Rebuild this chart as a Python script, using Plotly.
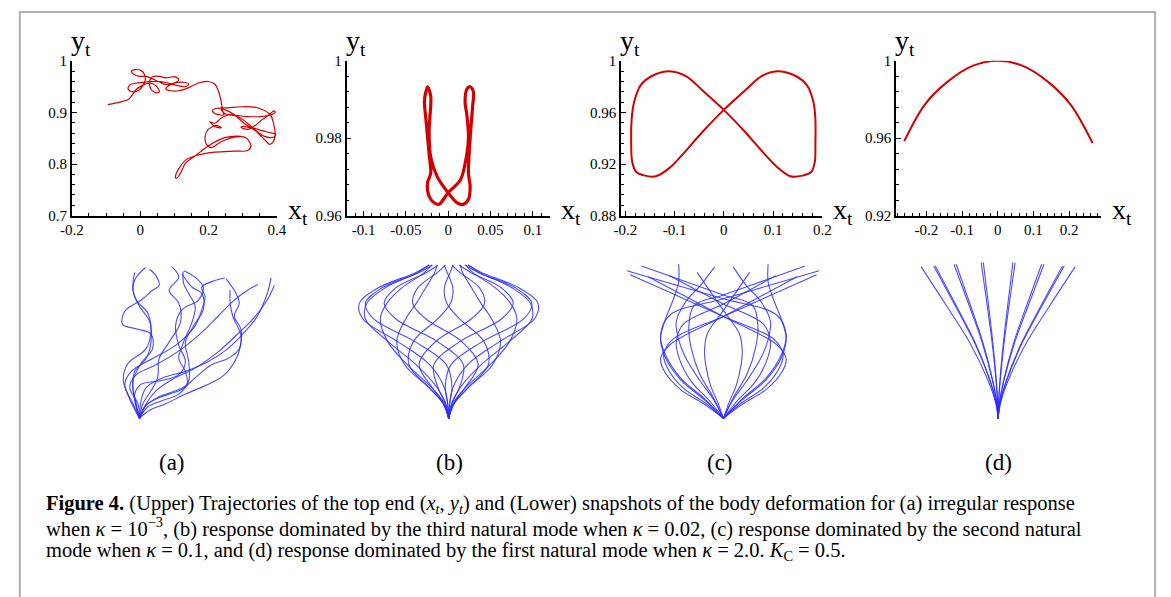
import plotly.graph_objects as go

# ---------------- data ----------------
# (a) irregular trajectory of top end
traj_a_x = [-0.095,-0.059,-0.035,-0.023,-0.011,0.008,0.027,0.046,0.056,0.046,
            0.032,0.027,0.036,0.056,0.075,0.103,0.113,0.099,0.075,0.056,
            0.036,0.017,-0.002,-0.019,-0.026,-0.016,0.003,0.012,0.015,0.008,
            -0.007,-0.021,-0.035,-0.031,-0.011,0.017,0.046,0.075,0.103,0.132,
            0.142,0.132,0.108,0.084,0.075,0.089,0.113,0.142,0.170,0.199,
            0.218,0.230,0.237,0.242,0.245,0.237,0.218,0.211,0.223,0.257,
            0.295,0.343,0.381,0.391,0.395,0.389,0.379,0.367,0.338,0.304,
            0.276,0.252,0.237,0.247,0.276,0.314,0.352,0.381,0.395,0.391,
            0.376,0.357,0.333,0.314,0.295,0.300,0.333,0.371,0.395,0.395,
            0.381,0.362,0.338,0.314,0.285,0.257,0.237,0.218,0.204,0.218,
            0.237,0.223,0.199,0.190,0.194,0.209,0.237,0.276,0.309,0.324,
            0.314,0.276,0.218,0.161,0.132,0.113,0.103,0.106,0.118,0.132,
            0.161,0.199,0.247,0.285,0.304]
traj_a_y = [0.915,0.920,0.925,0.934,0.945,0.953,0.957,0.952,0.940,0.938,
            0.945,0.958,0.969,0.970,0.967,0.969,0.963,0.957,0.954,0.959,
            0.965,0.970,0.970,0.974,0.980,0.983,0.981,0.974,0.964,0.952,
            0.942,0.940,0.945,0.953,0.957,0.959,0.960,0.958,0.953,0.950,
            0.955,0.958,0.958,0.952,0.945,0.942,0.942,0.948,0.957,0.960,
            0.955,0.939,0.920,0.901,0.895,0.895,0.898,0.903,0.908,0.909,
            0.911,0.909,0.895,0.876,0.857,0.843,0.838,0.845,0.864,0.879,
            0.895,0.904,0.906,0.898,0.895,0.892,0.892,0.895,0.901,0.903,
            0.895,0.886,0.873,0.867,0.871,0.873,0.869,0.862,0.858,0.854,
            0.851,0.854,0.865,0.879,0.892,0.895,0.889,0.879,0.882,0.873,
            0.870,0.875,0.867,0.854,0.838,0.832,0.843,0.852,0.851,0.835,
            0.826,0.825,0.823,0.816,0.807,0.791,0.775,0.772,0.782,0.801,
            0.816,0.835,0.851,0.854,0.852]

# (b) third-mode trajectory
traj_b_x = [-0.0245,-0.028,-0.026,-0.0225,-0.0206,-0.0245,-0.0225,-0.0167,-0.0109,0.0,
            0.0144,0.020,0.024,0.0221,0.020,0.0221,0.026,0.0299,0.029,0.026,
            0.024,0.026,0.024,0.018,0.0105,0.0,-0.0128,-0.0206,-0.0225,-0.0206,
            -0.0206,-0.0245,-0.028]
traj_b_y = [0.9933,0.990,0.9843,0.9759,0.9709,0.9684,0.965,0.9633,0.9629,0.9659,
            0.9692,0.9734,0.9801,0.986,0.9893,0.9927,0.9933,0.9919,0.9885,0.980,
            0.9709,0.9675,0.9642,0.9629,0.9633,0.9659,0.970,0.9751,0.9818,0.9885,
            0.991,0.9933,0.990]

# (c) second-mode figure-eight trajectory
traj_c_x = [0,0.043,0.076,0.108,0.142,0.169,0.182,0.186,0.186,0.185,0.178,0.160,0.135,
            0.110,0.082,0.043,0,-0.043,-0.076,-0.110,-0.142,-0.169,-0.182,-0.187,-0.188,
            -0.186,-0.178,-0.160,-0.138,-0.110,-0.082,-0.043,0,0.043]
traj_c_y = [0.962,0.977,0.988,0.992,0.989,0.981,0.968,0.955,0.935,0.922,0.914,0.911,0.9105,
            0.917,0.928,0.945,0.962,0.977,0.988,0.992,0.989,0.981,0.968,0.955,0.935,
            0.922,0.914,0.911,0.9105,0.917,0.928,0.945,0.962,0.977]

# (d) first-mode arc trajectory
traj_d_x = [-0.262,-0.206,-0.142,-0.069,0.0,0.069,0.142,0.206,0.266]
traj_d_y = [0.9585,0.977,0.989,0.9975,1.0,0.9975,0.989,0.977,0.9575]

# Lower snapshots: lateral deflection (x) and height (y) of body, root at (0,0)
snap_a_x = [
    [0,-0.063,-0.104,-0.073,0.042,0.073,0.052,-0.021,-0.042,-0.021,0.038],
    [0,-0.031,-0.042,0.010,0.083,0.073,-0.010,-0.108,-0.094,0.010,0.083,0.125,0.104,0.063],
    [0,-0.021,-0.042,-0.031,0.042,0.073,0.063,0,-0.042,-0.031],
    [0,0.021,0.073,0.115,0.125,0.188,0.260,0.250,0.188,0.250,0.208],
    [0,0.042,0.115,0.229,0.302,0.292,0.250,0.281,0.333,0.354,0.313,0.281,0.277],
    [0,0.052,0.146,0.250,0.313,0.313,0.292,0.344,0.406,0.396,0.333,0.271],
    [0,0.042,0.104,0.208,0.354,0.500,0.625,0.729,0.813,0.858],
    [0,0.010,0.042,0.146,0.292,0.438,0.563,0.667,0.750,0.813,0.838],
    [0,-0.010,-0.063,-0.021,0.104,0.271,0.396,0.500,0.604,0.688,0.754],
    [0,-0.042,-0.094,-0.052,0.083,0.229,0.354,0.396,0.417,0.396,0.479,0.542],
    [0,0.063,0.167,0.292,0.438,0.542,0.625,0.646,0.594,0.577,0.577],
    [0,0.031,0.104,0.188,0.271,0.354,0.458,0.563,0.635,0.646,0.604,0.635,0.615,0.552],
    [0,-0.021,-0.031,0.010,0.125,0.250,0.292,0.250,0.229,0.271,0.375,0.406,0.354,0.281],
]
snap_a_y = [
    [0,0.125,0.250,0.354,0.448,0.573,0.677,0.760,0.844,0.906,0.969],
    [0,0.115,0.240,0.354,0.448,0.542,0.573,0.604,0.688,0.760,0.823,0.854,0.917,0.958],
    [0,0.094,0.198,0.302,0.385,0.490,0.625,0.719,0.823,0.9375],
    [0,0.094,0.177,0.260,0.385,0.490,0.615,0.740,0.823,0.906,0.973],
    [0,0.083,0.135,0.177,0.219,0.302,0.385,0.490,0.615,0.719,0.802,0.865,0.944],
    [0,0.073,0.115,0.156,0.240,0.365,0.490,0.594,0.698,0.802,0.844,0.927],
    [0,0.094,0.177,0.250,0.323,0.427,0.542,0.646,0.760,0.854],
    [0,0.115,0.198,0.260,0.302,0.365,0.448,0.552,0.656,0.802,0.902],
    [0,0.094,0.198,0.281,0.344,0.448,0.552,0.656,0.760,0.823,0.860],
    [0,0.094,0.219,0.302,0.385,0.469,0.594,0.698,0.781,0.844,0.885,0.902],
    [0,0.052,0.094,0.156,0.219,0.281,0.406,0.531,0.656,0.740,0.823],
    [0,0.073,0.125,0.156,0.1875,0.260,0.344,0.385,0.448,0.573,0.656,0.740,0.802,0.896],
    [0,0.073,0.156,0.219,0.240,0.281,0.365,0.469,0.594,0.698,0.760,0.844,0.906,0.948],
]

snap_b_y = [0,0.099,0.197,0.345,0.493,0.640,0.739,0.837,0.936,0.985]
snap_b_x = [
    [0,-0.021,-0.073,-0.208,-0.385,-0.531,-0.521,-0.406,-0.198,-0.125],
    [0,-0.007,-0.027,-0.121,-0.324,-0.547,-0.569,-0.451,-0.211,-0.123],
    [0,0.007,0.022,-0.015,-0.214,-0.479,-0.530,-0.427,-0.191,-0.103],
    [0,0.021,0.068,0.094,-0.071,-0.338,-0.411,-0.339,-0.143,-0.067],
    [0,0.031,0.104,0.188,0.083,-0.146,-0.229,-0.198,-0.073,-0.021],
    [0,0.037,0.124,0.253,0.225,0.069,-0.012,-0.027,0.009,0.029],
    [0,0.037,0.125,0.280,0.331,0.273,0.206,0.147,0.089,0.074],
    [0,0.031,0.107,0.264,0.388,0.435,0.394,0.300,0.155,0.108],
    [0,0.021,0.073,0.208,0.385,0.531,0.521,0.406,0.198,0.125],
    [0,0.007,0.027,0.121,0.324,0.547,0.569,0.451,0.211,0.123],
    [0,-0.007,-0.022,0.015,0.214,0.479,0.530,0.427,0.191,0.103],
    [0,-0.021,-0.068,-0.094,0.071,0.338,0.411,0.339,0.143,0.067],
    [0,-0.031,-0.104,-0.188,-0.083,0.146,0.229,0.198,0.073,0.021],
    [0,-0.037,-0.124,-0.253,-0.225,-0.069,0.012,0.027,-0.009,-0.029],
    [0,-0.037,-0.125,-0.280,-0.331,-0.273,-0.206,-0.147,-0.089,-0.074],
    [0,-0.031,-0.107,-0.264,-0.388,-0.435,-0.394,-0.300,-0.155,-0.108],
]

snap_c_x = [
    [0,0.120,0.272,0.372,0.400,0.340,0,-0.308,-0.615],
    [0,0.114,0.258,0.353,0.380,0.323,0,-0.297,-0.594],
    [0,0.066,0.150,0.205,0.220,0.187,0,-0.261,-0.521],
    [0,0.120,0.272,0.372,0.400,0.340,0,-0.240,-0.479],
    [0,0.090,0.204,0.279,0.300,0.255,0,-0.172,-0.344],
    [0,-0.120,-0.272,-0.372,-0.400,-0.370,-0.320,-0.285,-0.285],
    [0,0.036,0.082,0.112,0.120,0.102,0,-0.084,-0.167],
    [0,-0.060,-0.150,-0.240,-0.285,-0.300,-0.240,-0.140,-0.056],
    [0,0.060,0.150,0.240,0.285,0.300,0.240,0.140,0.063],
    [0,-0.036,-0.082,-0.112,-0.120,-0.102,0,0.084,0.167],
    [0,0.120,0.272,0.372,0.400,0.370,0.320,0.285,0.285],
    [0,-0.090,-0.204,-0.279,-0.300,-0.255,0,0.167,0.333],
    [0,-0.120,-0.272,-0.372,-0.400,-0.340,0,0.235,0.469],
    [0,-0.066,-0.150,-0.205,-0.220,-0.187,0,0.261,0.521],
    [0,-0.114,-0.258,-0.353,-0.380,-0.323,0,0.297,0.594],
    [0,-0.120,-0.272,-0.372,-0.400,-0.340,0,0.305,0.610],
]
snap_c_y = [
    [0,0.126,0.259,0.415,0.538,0.664,0.768,0.858,0.948],
    [0,0.097,0.198,0.318,0.411,0.508,0.655,0.789,0.923],
    [0,0.138,0.283,0.453,0.586,0.724,0.793,0.886,0.979],
    [0,0.090,0.185,0.296,0.383,0.473,0.655,0.783,0.910],
    [0,0.115,0.236,0.379,0.491,0.605,0.734,0.825,0.917],
    [0,0.119,0.248,0.396,0.515,0.634,0.762,0.876,0.990],
    [0,0.103,0.212,0.340,0.441,0.544,0.694,0.816,0.938],
    [0,0.117,0.243,0.389,0.506,0.623,0.749,0.861,0.973],
    [0,0.117,0.243,0.389,0.506,0.623,0.749,0.861,0.973],
    [0,0.103,0.212,0.340,0.441,0.544,0.694,0.816,0.938],
    [0,0.119,0.248,0.396,0.515,0.634,0.762,0.876,0.990],
    [0,0.115,0.236,0.379,0.491,0.605,0.734,0.825,0.917],
    [0,0.090,0.185,0.296,0.383,0.473,0.655,0.783,0.910],
    [0,0.138,0.283,0.453,0.586,0.724,0.793,0.886,0.979],
    [0,0.097,0.198,0.318,0.411,0.508,0.655,0.789,0.923],
    [0,0.126,0.259,0.415,0.538,0.664,0.768,0.858,0.948],
]

snap_d_x = [
    [0,-0.015,-0.064,-0.181,-0.333,-0.490],
    [0,-0.012,-0.053,-0.152,-0.279,-0.410],
    [0,-0.012,-0.052,-0.148,-0.272,-0.400],
    [0,-0.008,-0.037,-0.104,-0.191,-0.281],
    [0,-0.008,-0.035,-0.099,-0.182,-0.267],
    [0,-0.003,-0.014,-0.040,-0.073,-0.108],
    [0,-0.003,-0.012,-0.035,-0.064,-0.094],
    [0,0.003,0.012,0.035,0.064,0.094],
    [0,0.003,0.014,0.040,0.073,0.108],
    [0,0.008,0.036,0.102,0.188,0.277],
    [0,0.009,0.038,0.108,0.199,0.292],
    [0,0.012,0.053,0.152,0.279,0.410],
    [0,0.013,0.055,0.156,0.286,0.421],
    [0,0.015,0.064,0.181,0.333,0.490],
]
snap_d_y = [
    [0,0.097,0.243,0.487,0.730,0.973],
    [0,0.098,0.245,0.490,0.734,0.979],
    [0,0.098,0.245,0.490,0.734,0.979],
    [0,0.099,0.248,0.495,0.743,0.990],
    [0,0.099,0.248,0.495,0.743,0.990],
    [0,0.100,0.250,0.500,0.750,1.000],
    [0,0.100,0.250,0.500,0.750,1.000],
    [0,0.100,0.250,0.500,0.750,1.000],
    [0,0.100,0.250,0.500,0.750,1.000],
    [0,0.099,0.248,0.495,0.743,0.990],
    [0,0.099,0.248,0.495,0.743,0.990],
    [0,0.098,0.245,0.490,0.734,0.979],
    [0,0.098,0.245,0.490,0.734,0.979],
    [0,0.097,0.243,0.487,0.730,0.973],
]

# axis ticks
ticks_a_x = [-0.2, 0, 0.2, 0.4]
ticks_a_y = [0.7, 0.8, 0.9, 1]
ticks_b_x = [-0.1, -0.05, 0, 0.05, 0.1]
ticks_b_y = [0.96, 0.98, 1]
ticks_c_x = [-0.2, -0.1, 0, 0.1, 0.2]
ticks_c_y = [0.88, 0.92, 0.96, 1]
ticks_d_x = [-0.2, -0.1, 0, 0.1, 0.2]
ticks_d_y = [0.92, 0.96, 1]
panel_labels = ["(a)", "(b)", "(c)", "(d)"]

caption_lines = [
    "<b>Figure 4.</b> (Upper) Trajectories of the top end (<i>x<sub>t</sub></i>, <i>y<sub>t</sub></i>) and (Lower) snapshots of the body deformation for (a) irregular response",
    "when <i>κ</i> = 10<sup>−3</sup>, (b) response dominated by the third natural mode when <i>κ</i> = 0.02, (c) response dominated by the second natural",
    "mode when <i>κ</i> = 0.1, and (d) response dominated by the first natural mode when <i>κ</i> = 2.0. <i>K</i><sub>C</sub> = 0.5.",
]

# ---------------- layout helpers ----------------
W, H = 1171, 597
FONT = "Liberation Serif"
RED = "rgb(212,0,0)"
BLUE = "rgba(45,45,255,0.85)"


def px(x):
    return x / W


def py(y):
    return 1 - y / H


def fmt(v):
    return "%g" % v


fig = go.Figure()

uppers = [
    (traj_a_x, traj_a_y, 1.2, "x", "y"),
    (traj_b_x, traj_b_y, 3.2, "x2", "y2"),
    (traj_c_x, traj_c_y, 2.0, "x3", "y3"),
    (traj_d_x, traj_d_y, 2.0, "x4", "y4"),
]
for xs, ys, w, xa, ya in uppers:
    fig.add_trace(go.Scatter(x=xs, y=ys, mode="lines", xaxis=xa, yaxis=ya,
                             line=dict(color=RED, width=w, shape="spline", smoothing=0.9),
                             hoverinfo="skip"))

lowers = [
    (snap_a_x, snap_a_y, "x5", "y5"),
    (snap_b_x, [snap_b_y] * len(snap_b_x), "x6", "y6"),
    (snap_c_x, snap_c_y, "x7", "y7"),
    (snap_d_x, snap_d_y, "x8", "y8"),
]
for xs_list, ys_list, xa, ya in lowers:
    for xs, ys in zip(xs_list, ys_list):
        fig.add_trace(go.Scatter(x=xs, y=ys, mode="lines", xaxis=xa, yaxis=ya,
                                 line=dict(color=BLUE, width=1.1, shape="spline", smoothing=1.0),
                                 hoverinfo="skip"))

up_top, up_bot = 54.3, 213.3
lo_top, lo_bot = 250, 430
upper_specs = [
    (61, 270, [-0.2, 0.4], [0.7, 1.0], ticks_a_x, ticks_a_y, 0.05, 0.02),
    (341, 548, [-0.12, 0.12], [0.96, 1.0], ticks_b_x, ticks_b_y, 0.01, 0.004),
    (620.7, 826, [-0.2086, 0.2004], [0.88, 1.0], ticks_c_x, ticks_c_y, 0.02, 0.008),
    (901, 1110, [-0.285, 0.29], [0.92, 1.0], ticks_d_x, ticks_d_y, 0.02, 0.008),
]
tickfont = dict(family=FONT, size=15, color="black")
layout_axes = {}
for i, (x0, x1, xr, yr, xt, yt, xm, ym) in enumerate(upper_specs):
    n = "" if i == 0 else str(i + 1)
    layout_axes["xaxis" + n] = dict(
        domain=[px(x0), px(x1)], range=xr, anchor="y" + n,
        showline=True, linecolor="black", linewidth=1.5,
        ticks="inside", ticklen=5, tickwidth=1, tickcolor="black",
        tickmode="array", tickvals=xt, ticktext=[fmt(v) for v in xt],
        tickfont=tickfont, showgrid=False, zeroline=False,
        minor=dict(ticks="inside", ticklen=3, tickwidth=1, tickcolor="black",
                   tickmode="linear", tick0=0, dtick=xm, showgrid=False),
        fixedrange=True)
    layout_axes["yaxis" + n] = dict(
        domain=[py(up_bot), py(up_top)], range=yr, anchor="x" + n,
        showline=True, linecolor="black", linewidth=1.5,
        ticks="inside", ticklen=5, tickwidth=1, tickcolor="black",
        tickmode="array", tickvals=yt, ticktext=[fmt(v) for v in yt],
        tickfont=tickfont, showgrid=False, zeroline=False,
        minor=dict(ticks="inside", ticklen=3, tickwidth=1, tickcolor="black",
                   tickmode="linear", tick0=0, dtick=ym, showgrid=False),
        fixedrange=True)

roots = [130, 445, 725, 1005]
lower_dom = [(40, 300), (305, 585), (585, 865), (865, 1145)]
scale = 160.0
for i, (root, (d0, d1)) in enumerate(zip(roots, lower_dom)):
    n = str(i + 5)
    layout_axes["xaxis" + n] = dict(domain=[px(d0), px(d1)],
                                    range=[(d0 - root) / scale, (d1 - root) / scale],
                                    visible=False, anchor="y" + n, fixedrange=True)
    layout_axes["yaxis" + n] = dict(domain=[py(lo_bot), py(lo_top)],
                                    range=[-(lo_bot - 421.7) / scale, (421.7 - lo_top) / scale],
                                    visible=False, anchor="x" + n, fixedrange=True)

annotations = []
for (x0, x1, *_rest) in upper_specs:
    annotations.append(dict(x=px(x0 - 3), y=py(56), xref="paper", yref="paper",
                            xanchor="left", yanchor="bottom", showarrow=False,
                            text="y<sub>t</sub>", font=dict(family=FONT, size=28, color="black")))
    annotations.append(dict(x=px(x1 + 9), y=py(229), xref="paper", yref="paper",
                            xanchor="left", yanchor="bottom", showarrow=False,
                            text="x<sub>t</sub>", font=dict(family=FONT, size=28, color="black")))
for lab, cx in zip(panel_labels, [163, 446, 722, 1005]):
    annotations.append(dict(x=px(cx), y=py(467), xref="paper", yref="paper",
                            xanchor="center", yanchor="middle", showarrow=False,
                            text=lab, font=dict(family=FONT, size=23, color="black")))
for k, line in enumerate(caption_lines):
    annotations.append(dict(x=px(34), y=py(510 + 24 * k), xref="paper", yref="paper",
                            xanchor="left", yanchor="middle", showarrow=False, align="left",
                            borderpad=0,
                            text=line, font=dict(family=FONT, size=20.5, color="black")))

shapes = [dict(type="rect", xref="paper", yref="paper",
               x0=px(8), x1=px(1165), y0=-0.05, y1=py(4),
               line=dict(color="#b0b0b0", width=2), fillcolor="rgba(0,0,0,0)")]

fig.update_layout(width=W, height=H, margin=dict(l=0, r=0, t=0, b=0),
                  paper_bgcolor="white", plot_bgcolor="rgba(0,0,0,0)",
                  showlegend=False, annotations=annotations, shapes=shapes,
                  font=dict(family=FONT, color="black"), **layout_axes)

fig.write_html("out.html")
